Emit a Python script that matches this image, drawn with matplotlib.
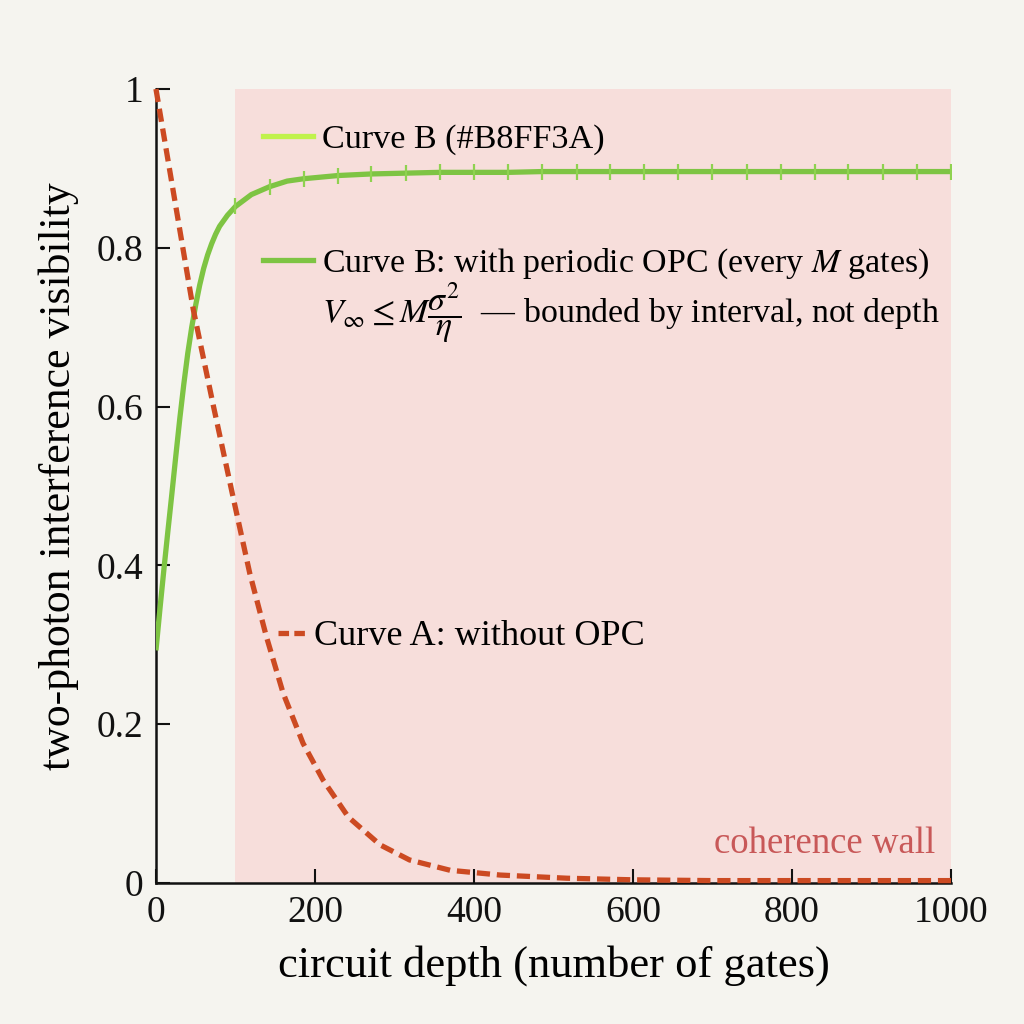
import numpy as np
import matplotlib
matplotlib.use("Agg")
import matplotlib.pyplot as plt
from matplotlib.lines import Line2D

plt.rcParams['font.family'] = ['Liberation Serif', 'DejaVu Serif']
plt.rcParams['mathtext.fontset'] = 'stix'

# ---- data ----
depth_A = [0, 25, 47, 72, 97, 118, 139, 160, 185, 210, 242, 282, 319, 370, 433,
           517, 600, 700, 800, 900, 1000]
vis_A = [1.0, 0.852, 0.722, 0.602, 0.486, 0.39, 0.31, 0.239, 0.176, 0.13, 0.083,
         0.048, 0.029, 0.016, 0.010, 0.006, 0.004, 0.003, 0.003, 0.003, 0.003]

depth_B = [0, 5, 10, 15, 20, 25, 30, 35, 40, 45, 50, 55, 60, 65, 70, 75, 80, 90,
           100, 120, 143, 165, 186, 229, 271, 314, 357, 400, 443, 486, 529, 571,
           614, 657, 700, 743, 786, 829, 871, 914, 957, 1000]
vis_B = [0.293, 0.345, 0.395, 0.443, 0.49, 0.538, 0.585, 0.628, 0.667, 0.70, 0.728,
         0.753, 0.774, 0.791, 0.805, 0.817, 0.827, 0.841, 0.852, 0.867, 0.877, 0.884,
         0.887, 0.891, 0.893, 0.894, 0.895, 0.895, 0.895, 0.896, 0.896, 0.896,
         0.896, 0.896, 0.896, 0.896, 0.896, 0.896, 0.896, 0.896, 0.896, 0.896]
marker_depths = [100, 143, 186, 229, 271, 314, 357, 400, 443, 486, 529, 571, 614,
                 657, 700, 743, 786, 829, 871, 914, 957, 1000]

wall_start = 100
wall_end = 1000

x_ticks = [0, 200, 400, 600, 800, 1000]
y_ticks = [0, 0.2, 0.4, 0.6, 0.8, 1.0]
y_tick_labels = ['0', '0.2', '0.4', '0.6', '0.8', '1']

label_A = 'Curve A: without OPC'
label_B_hex = 'Curve B (#B8FF3A)'
label_B = 'Curve B: with periodic OPC (every $M$ gates)'
label_B2 = r'$V_\infty \leq M\dfrac{\sigma^2}{\eta}$  — bounded by interval, not depth'

# ---- styles ----
bg = '#f5f4ef'
wall_color = '#f7dedb'
col_A = '#cc4a22'
col_B = '#7ec443'
col_B_hex = '#c0f24c'
col_marker = '#8fd250'
text_wall = '#c85858'

fig = plt.figure(figsize=(10.24, 10.24), dpi=100, facecolor=bg)
ax = fig.add_axes([0.1523, 0.1377, 0.7764, 0.7754], facecolor=bg)

ax.axvspan(wall_start, wall_end, color=wall_color, zorder=0, lw=0)

mark_idx = [i for i, d in enumerate(depth_B) if d in marker_depths]
lineB, = ax.plot(depth_B, vis_B, color=col_B, lw=3.8, zorder=3,
                 marker='|', markevery=mark_idx,
                 markersize=11, markeredgewidth=1.6, markeredgecolor=col_marker,
                 solid_capstyle='butt', solid_joinstyle='round')
lineA, = ax.plot(depth_A, vis_A, color=col_A, lw=3.8, zorder=4,
                 dashes=(2.5, 1.3), clip_on=False)

ax.set_xlim(0, 1000)
ax.set_ylim(0, 1)
ax.set_xticks(x_ticks)
ax.set_yticks(y_ticks)
ax.set_yticklabels(y_tick_labels)
for s in ['top', 'right']:
    ax.spines[s].set_visible(False)
for s in ['left', 'bottom']:
    ax.spines[s].set_linewidth(1.8)
    ax.spines[s].set_color('#111111')
ax.tick_params(direction='in', length=10, width=1.5, labelsize=27, pad=9,
               colors='#111111')

ax.set_xlabel('circuit depth (number of gates)', fontsize=32, labelpad=11)
ax.set_ylabel('two-photon interference visibility', fontsize=31.5)
ax.yaxis.set_label_coords(-0.097, 0.512)

# legends
h_hex = Line2D([], [], color=col_B_hex, lw=3.8)
leg1 = ax.legend([h_hex], [label_B_hex], loc='center left',
                 bbox_to_anchor=(0.135, 0.936), frameon=False, fontsize=24.6,
                 handlelength=1.45, handletextpad=0.27, borderpad=0, borderaxespad=0)
ax.add_artist(leg1)

h_B = Line2D([], [], color=col_B, lw=3.8)
h_none = Line2D([], [], color='none', lw=0)
leg2 = ax.legend([h_B, h_none], [label_B, label_B2], loc='upper left',
                 bbox_to_anchor=(0.135, 0.802), frameon=False, fontsize=24.4,
                 handlelength=1.46, handletextpad=0.27, borderpad=0, borderaxespad=0,
                 labelspacing=0.0)
ax.add_artist(leg2)

h_A = Line2D([], [], color=col_A, lw=3.8, dashes=(2.0, 1.0))
leg3 = ax.legend([h_A], [label_A], loc='center left',
                 bbox_to_anchor=(0.153, 0.31), frameon=False, fontsize=26,
                 handlelength=0.75, handletextpad=0.25, borderpad=0, borderaxespad=0)

ax.text(0.98, 0.038, 'coherence wall', transform=ax.transAxes, ha='right',
        va='baseline', fontsize=26.5, color=text_wall)

fig.savefig('out.png', dpi=100, facecolor=bg)
